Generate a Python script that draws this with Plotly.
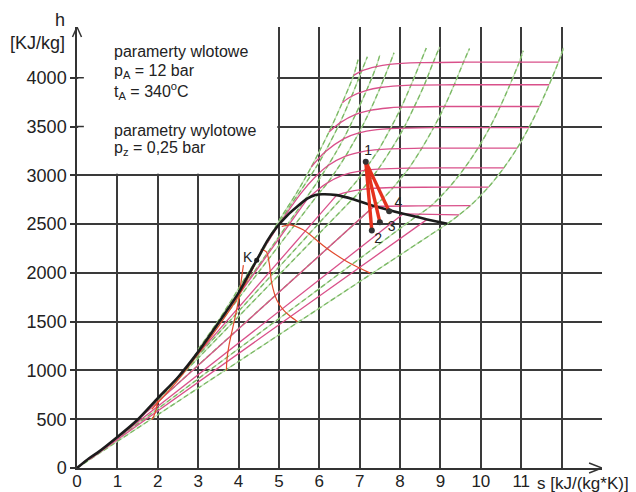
import plotly.graph_objects as go

# ---------------- data (s [kJ/(kg K)], h [kJ/kg]) ----------------
# saturation line (liquid branch -> critical point K -> vapour branch)
sat_s = [0.00, 0.30, 0.50, 1.00, 1.50, 2.00, 2.50, 3.00, 3.50, 4.00, 4.20, 4.45, 4.70, 4.93, 5.21, 5.44, 5.70, 5.90, 6.07, 6.43, 6.84, 7.36, 8.08, 8.67, 9.17]
sat_h = [0, 100, 155, 318, 495, 715, 930, 1190, 1485, 1795, 1945, 2130, 2320, 2460, 2590, 2675, 2760, 2797, 2806, 2797, 2755, 2685, 2605, 2548, 2503]
crit_s = [4.45]
crit_h = [2130]

# isobars (green): first point on liquid line, second on vapour line, then superheated region
p0006_s = [0.00, 9.17, 9.46, 9.74, 10.19, 10.57, 10.90, 11.19, 11.45, 11.69, 11.92, 12.05]
p0006_h = [0, 2503, 2594, 2689, 2879, 3077, 3279, 3489, 3705, 3928, 4159, 4308]
p005_s = [0.48, 8.39, 8.77, 9.22, 9.60, 9.93, 10.22, 10.48, 10.72, 10.95, 11.05]
p005_h = [138, 2575, 2688, 2879, 3077, 3279, 3489, 3705, 3928, 4159, 4277]
p1_s = [1.30, 7.36, 7.61, 7.83, 8.03, 8.22, 8.54, 8.83, 9.10, 9.34, 9.57, 9.72]
p1_h = [417, 2685, 2776, 2875, 2975, 3074, 3278, 3488, 3705, 3928, 4159, 4300]
p5_s = [1.86, 6.82, 7.06, 7.27, 7.46, 7.79, 8.09, 8.35, 8.60, 8.82, 8.98]
p5_h = [640, 2755, 2855, 2961, 3064, 3272, 3484, 3702, 3926, 4156, 4315]
p10_s = [2.14, 6.59, 6.69, 6.93, 7.12, 7.47, 7.76, 8.03, 8.27, 8.50, 8.65]
p10_h = [763, 2780, 2828, 2943, 3051, 3264, 3479, 3698, 3924, 4154, 4305]
p50_s = [2.92, 5.97, 6.21, 6.45, 6.65, 6.82, 6.98, 7.26, 7.51, 7.74, 7.85]
p50_h = [1155, 2805, 2925, 3068, 3196, 3317, 3434, 3666, 3900, 4137, 4256]
p100_s = [3.36, 5.61, 5.94, 6.21, 6.42, 6.60, 6.90, 7.17, 7.41, 7.50]
p100_h = [1408, 2730, 2924, 3097, 3241, 3374, 3625, 3870, 4115, 4235]
p200_s = [4.02, 4.93, 5.25, 5.55, 5.90, 6.14, 6.51, 6.80, 7.05, 7.19]
p200_h = [1815, 2460, 2670, 2850, 3070, 3238, 3537, 3810, 4071, 4215]
p300_s = [3.00, 3.50, 3.90, 4.20, 4.48, 4.80, 5.10, 5.44, 5.80, 6.24, 6.57, 6.85, 6.96]
p300_h = [1215, 1510, 1770, 1975, 2160, 2390, 2600, 2821, 3084, 3444, 3745, 4024, 4185]

# isotherms (pink)
t20_s = [0.30, 8.67]
t20_h = [84, 2548]
t50_s = [0.70, 8.08, 9.46]
t50_h = [209, 2605, 2595]
t100_s = [1.31, 7.36, 7.70, 8.45, 9.74]
t100_h = [419, 2685, 2683, 2687, 2689]
t200_s = [2.33, 6.43, 6.69, 7.06, 7.51, 7.83, 9.22, 10.19]
t200_h = [852, 2797, 2828, 2855, 2870, 2875, 2879, 2879]
t300_s = [3.26, 5.71, 5.93, 6.21, 6.54, 6.77, 7.12, 7.46, 8.22, 9.60, 10.57]
t300_h = [1344, 2760, 2840, 2925, 2994, 3024, 3051, 3064, 3074, 3077, 3077]
t400_s = [4.48, 5.14, 5.55, 5.88, 6.21, 6.65, 7.13, 7.47, 8.54, 9.93, 10.90]
t400_h = [2160, 2580, 2818, 2975, 3097, 3196, 3248, 3264, 3278, 3279, 3279]
t500_s = [5.80, 6.14, 6.60, 6.98, 7.43, 7.76, 8.83, 11.19]
t500_h = [3084, 3238, 3374, 3434, 3468, 3479, 3488, 3489]
t600_s = [6.24, 6.51, 6.90, 7.26, 7.70, 8.03, 9.10, 11.45]
t600_h = [3444, 3537, 3625, 3666, 3690, 3698, 3705, 3705]
t700_s = [6.57, 6.80, 7.17, 7.51, 8.27, 9.34, 11.69]
t700_h = [3745, 3810, 3870, 3900, 3924, 3928, 3928]
t800_s = [6.85, 7.05, 7.41, 7.74, 8.50, 9.57, 11.92]
t800_h = [4024, 4071, 4115, 4137, 4154, 4159, 4159]

# red thin curves in the wet region
q1_s = [1.85, 1.90, 1.96, 2.00]
q1_h = [495, 530, 600, 715]
q2_s = [3.70, 3.71, 3.76, 3.88, 4.00, 4.06, 4.12]
q2_h = [1000, 1100, 1250, 1480, 1720, 1900, 2080]
q3_s = [4.55, 4.69, 4.76, 4.82, 4.95, 5.11, 5.28, 5.46]
q3_h = [2240, 2215, 2100, 1900, 1720, 1620, 1555, 1500]
q4_s = [5.07, 5.27, 5.60, 6.18, 6.68, 7.26]
q4_h = [2475, 2492, 2441, 2253, 2116, 1997]
q5_s = [1.85, 2.50, 3.00, 3.50, 4.00, 4.40]
q5_h = [600, 900, 1170, 1450, 1760, 2080]

# expansion process points 1-4
proc_labels = ["1", "2", "3", "4"]
proc_s = [7.15, 7.30, 7.50, 7.73]
proc_h = [3140, 2434, 2518, 2632]
lab_s = [7.21, 7.46, 7.79, 7.96]
lab_h = [3242, 2344, 2463, 2706]

x_ticks = [0, 1, 2, 3, 4, 5, 6, 7, 8, 9, 10, 11, 12]
x_ticktext = ["0", "1", "2", "3", "4", "5", "6", "7", "8", "9", "10", "11", ""]
y_ticks = [0, 500, 1000, 1500, 2000, 2500, 3000, 3500, 4000]

# ---------------- figure ----------------
FONT = "Liberation Sans, Arial, sans-serif"
GREEN_UNDER = "#c8e4bb"
GREEN = "#7ab864"
PINK = "#d9508a"
RED_THIN = "#e24a2c"
RED = "#e5321d"

fig = go.Figure()

isobars = [(p0006_s, p0006_h), (p005_s, p005_h), (p1_s, p1_h), (p5_s, p5_h), (p10_s, p10_h),
           (p50_s, p50_h), (p100_s, p100_h), (p200_s, p200_h)]
for s, h in isobars:
    for col, dash in ((GREEN_UNDER, "solid"), (GREEN, "5px,3px")):
        fig.add_trace(go.Scatter(x=s[:2], y=h[:2], mode="lines",
                                 line=dict(color=col, width=1.3, dash=dash), hoverinfo="skip"))
        fig.add_trace(go.Scatter(x=s[1:], y=h[1:], mode="lines",
                                 line=dict(color=col, width=1.3, dash=dash, shape="spline", smoothing=0.8),
                                 hoverinfo="skip"))
for col, dash in ((GREEN_UNDER, "solid"), (GREEN, "5px,3px")):
    fig.add_trace(go.Scatter(x=p300_s, y=p300_h, mode="lines",
                             line=dict(color=col, width=1.3, dash=dash, shape="spline", smoothing=0.8),
                             hoverinfo="skip"))

wet_isotherms = [(t20_s, t20_h), (t50_s, t50_h), (t100_s, t100_h), (t200_s, t200_h), (t300_s, t300_h)]
for s, h in wet_isotherms:
    fig.add_trace(go.Scatter(x=s[:2], y=h[:2], mode="lines",
                             line=dict(color=PINK, width=1.3), hoverinfo="skip"))
    if len(s) > 2:
        fig.add_trace(go.Scatter(x=s[1:], y=h[1:], mode="lines",
                                 line=dict(color=PINK, width=1.3, shape="spline", smoothing=0.8),
                                 hoverinfo="skip"))
for s, h in [(t400_s, t400_h), (t500_s, t500_h), (t600_s, t600_h), (t700_s, t700_h), (t800_s, t800_h)]:
    fig.add_trace(go.Scatter(x=s, y=h, mode="lines",
                             line=dict(color=PINK, width=1.3, shape="spline", smoothing=0.8),
                             hoverinfo="skip"))

for s, h in [(q1_s, q1_h), (q2_s, q2_h), (q3_s, q3_h), (q4_s, q4_h), (q5_s, q5_h)]:
    fig.add_trace(go.Scatter(x=s, y=h, mode="lines",
                             line=dict(color=RED_THIN, width=1.2, shape="spline", smoothing=0.8),
                             hoverinfo="skip"))

# saturation line
fig.add_trace(go.Scatter(x=sat_s, y=sat_h, mode="lines",
                         line=dict(color="#1c1c1c", width=2.6, shape="spline", smoothing=0.6),
                         hoverinfo="skip"))
fig.add_trace(go.Scatter(x=crit_s, y=crit_h, mode="markers",
                         marker=dict(color="#1c1c1c", size=5), hoverinfo="skip"))

# expansion lines 1-2, 1-3, 1-4
for i in (1, 2, 3):
    fig.add_trace(go.Scatter(x=[proc_s[0], proc_s[i]], y=[proc_h[0], proc_h[i]], mode="lines",
                             line=dict(color=RED, width=3.4), hoverinfo="skip"))
fig.add_trace(go.Scatter(x=proc_s, y=proc_h, mode="markers",
                         marker=dict(color="#333333", size=6), hoverinfo="skip"))
fig.add_trace(go.Scatter(x=lab_s, y=lab_h, mode="text", text=proc_labels,
                         textfont=dict(family=FONT, size=14, color="#222222"), hoverinfo="skip"))

axis_common = dict(showgrid=True, gridcolor="#3a3a3a", gridwidth=1.5, zeroline=False,
                   showline=True, linecolor="#333333", linewidth=1.5, automargin=False,
                   tickcolor="#333333", tickwidth=1.5)

# the page body adds an 8 px offset, so the figure is 8 px smaller on each side
fig.update_layout(
    template="none",
    width=628, height=484,
    margin=dict(l=69, r=34, t=19, b=24, autoexpand=False),
    plot_bgcolor="white", paper_bgcolor="white",
    showlegend=False,
    font=dict(family=FONT, color="#222222"),
    xaxis=dict(range=[0, 13], tickvals=x_ticks, ticktext=x_ticktext, ticks="", ticklen=0,
               ticklabelstandoff=-3,
               tickfont=dict(family=FONT, size=17, color="#222222"), **axis_common),
    yaxis=dict(range=[0, 4520], tickvals=y_ticks, ticks="outside", ticklen=5,
               tickfont=dict(family=FONT, size=18, color="#222222"), **axis_common),
)

shapes = [
    # white box hiding the grid behind the parameter text
    dict(type="rect", xref="x", yref="y", x0=0.03, x1=4.96, y0=3015, y1=4520,
         fillcolor="white", line=dict(width=0), layer="between"),
    # small ticks inside the box
    dict(type="line", xref="x", yref="y", x0=0, x1=0.17, y0=3500, y1=3500,
         line=dict(color="#333333", width=1.5), layer="above"),
    dict(type="line", xref="x", yref="y", x0=0, x1=0.17, y0=4000, y1=4000,
         line=dict(color="#333333", width=1.5), layer="above"),
    # axis arrows
    dict(type="path", xref="x", yref="paper", path="M 12.68,0.0113 L 13,0 L 12.68,-0.0113",
         line=dict(color="#333333", width=1.5), layer="above"),
    dict(type="path", xref="paper", yref="y", path="M -0.0086,4417 L 0,4520 L 0.0086,4417",
         line=dict(color="#333333", width=1.5), layer="above"),
]
fig.update_layout(shapes=shapes)

ann = [
    dict(text="h", x=-0.0324, y=1.0159, font=dict(size=18)),
    dict(text="[KJ/kg]", x=-0.0752, y=0.9637, font=dict(size=18)),
    dict(text="s [kJ/(kg*K)]", x=0.8724, y=-0.036, xanchor="left", font=dict(size=17)),
    dict(text="K", x=0.3248, y=0.4785, font=dict(size=14)),
    dict(text="paramerty wlotowe", x=0.0661, y=0.944, xanchor="left", font=dict(size=16)),
    dict(text="p<sub>A</sub> = 12 bar", x=0.0661, y=0.8986, xanchor="left", font=dict(size=16)),
    dict(text="t<sub>A</sub> = 340<sup>o</sup>C", x=0.0661, y=0.8556, xanchor="left", font=dict(size=16)),
    dict(text="parametry wylotowe", x=0.0661, y=0.7664, xanchor="left", font=dict(size=16)),
    dict(text="p<sub>z</sub> = 0,25 bar", x=0.0661, y=0.7249, xanchor="left", font=dict(size=16)),
]
for a in ann:
    a.setdefault("xanchor", "center")
    a.update(xref="paper", yref="paper", yanchor="middle", showarrow=False)
    a["font"] = dict(family=FONT, color="#222222", **a["font"])
fig.update_layout(annotations=ann)

fig.write_html("out.html")
